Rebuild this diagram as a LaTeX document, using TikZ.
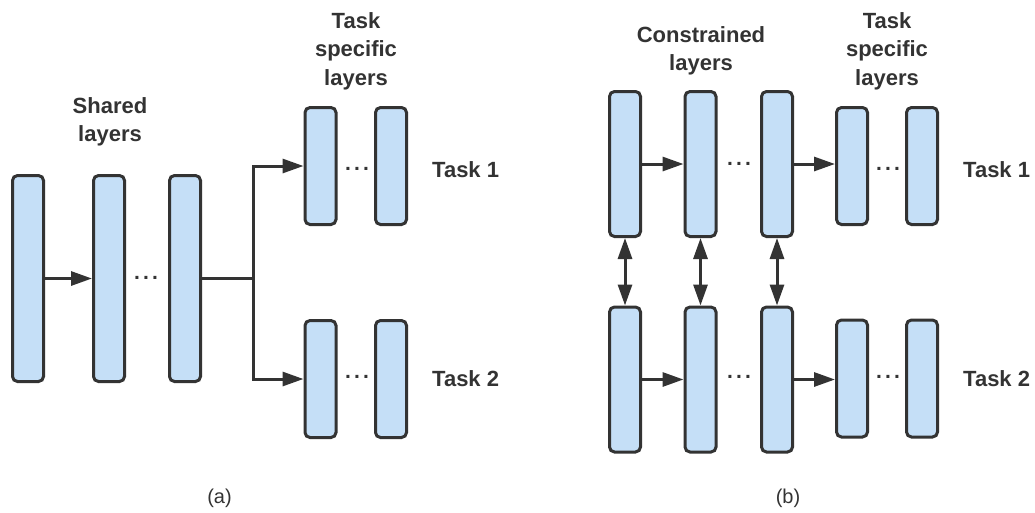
\documentclass[tikz,border=0pt]{standalone}
\usepackage{fontspec}
\setmainfont{Liberation Sans}
\usetikzlibrary{arrows.meta}
\definecolor{ink}{HTML}{333333}
\definecolor{layerfill}{HTML}{C5DFF7}
\newcommand{\gapdots}{.\kern3.2pt.\kern3.2pt.}
\tikzset{
  layer/.style={draw=ink, fill=layerfill, line width=3pt, rounded corners=5pt,
    minimum width=31pt, inner sep=0pt},
  tall/.style={layer, minimum height=206pt},
  mid/.style={layer, minimum height=145pt},
  short/.style={layer, minimum height=117pt},
  link/.style={draw=ink, line width=3pt},
  arr/.style={link, -{Triangle[length=21pt,width=14pt]}},
  darr/.style={link, {Triangle[length=21pt,width=14pt]}-{Triangle[length=21pt,width=14pt]}},
  gap/.style={text=ink, inner sep=0pt, font=\fontsize{21}{24}\selectfont\bfseries},
  head/.style={text=ink, inner sep=0pt, align=center, anchor=north,
    font=\fontsize{22}{28.5}\selectfont\bfseries},
  task/.style={text=ink, inner sep=0pt, anchor=base west,
    font=\fontsize{22}{26}\selectfont\bfseries},
  sublabel/.style={text=ink, inner sep=0pt, anchor=base,
    font=\fontsize{20}{24}\selectfont},
}
\begin{document}
\begin{tikzpicture}[x=1pt, y=-1pt]
\useasboundingbox (0,0) rectangle (1035,512);

% ---- (a) hard parameter sharing ----
\node[tall] (A1) at (28,278.5) {};
\node[tall] (A2) at (109,278.5) {};
\node[tall] (A3) at (185,278.5) {};
\node[short] (P1) at (320.5,166) {};
\node[short] (P2) at (391,166) {};
\node[short] (Q1) at (320.5,379) {};
\node[short] (Q2) at (391,379) {};

\draw[arr] (A1.east) -- (A2.west);
\node[gap] (dA) at (146,278) {\gapdots};
\coordinate (split) at (253,278.5);
\draw[link] (A3.east) -- (split);
\draw[arr] (split) |- (P1.west);
\draw[arr] (split) |- (Q1.west);
\node[gap] (dP) at (357,169) {\gapdots};
\node[gap] (dQ) at (357,377) {\gapdots};

\node[head] (hShared) at (110,97) {Shared\\layers};
\node[head] (hTaskA) at (356,12) {Task\\specific\\layers};
\node[task] (tA1) at (432,177) {Task 1};
\node[task] (tA2) at (432,386) {Task 2};
\node[sublabel] (ca) at (219.5,503) {(a)};

% ---- (b) soft parameter sharing ----
\node[mid] (B1) at (625,164) {};
\node[mid] (B2) at (700.5,164) {};
\node[mid] (B3) at (777,164) {};
\node[mid] (D1) at (625,379.5) {};
\node[mid] (D2) at (700.5,379.5) {};
\node[mid] (D3) at (777,379.5) {};
\node[short] (C1) at (852,166) {};
\node[short] (C2) at (922,166) {};
\node[short] (E1) at (852,378.5) {};
\node[short] (E2) at (922,378.5) {};

\draw[arr] (B1.east) -- (B2.west);
\draw[arr] (B3.east) -- (B3.east -| C1.west);
\draw[arr] (D1.east) -- (D2.west);
\draw[arr] (D3.east) -- (D3.east -| E1.west);
\node[gap] (dB) at (739,164) {\gapdots};
\node[gap] (dD) at (739,377) {\gapdots};
\node[gap] (dC) at (888,169) {\gapdots};
\node[gap] (dE) at (888,377) {\gapdots};

\draw[darr] (B1.south) -- (D1.north);
\draw[darr] (B2.south) -- (D2.north);
\draw[darr] (B3.south) -- (D3.north);

\node[head] (hCons) at (701,26) {Constrained\\layers};
\node[head] (hTaskB) at (887,12) {Task\\specific\\layers};
\node[task] (tB1) at (963,177) {Task 1};
\node[task] (tB2) at (963,386) {Task 2};
\node[sublabel] (cb) at (788,503) {(b)};
\end{tikzpicture}
\end{document}
